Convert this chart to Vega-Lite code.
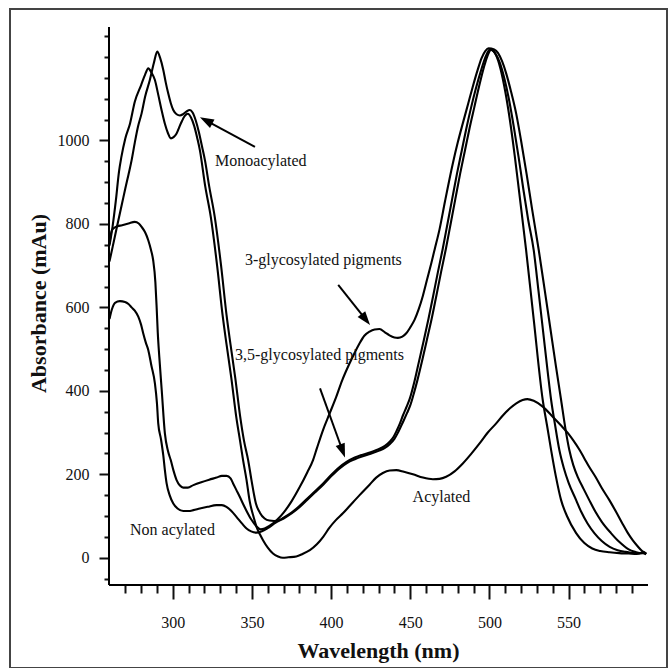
{
  "$schema": "https://vega.github.io/schema/vega-lite/v6.json",
  "width": 657,
  "height": 659,
  "autosize": {"type": "none"},
  "padding": {"left": 10, "top": 9, "right": 1, "bottom": 0},
  "background": "white",
  "config": {
    "view": {"stroke": "#444444", "strokeWidth": 2},
    "font": "Liberation Serif",
    "axis": {"grid": false, "domain": false, "labelFont": "Liberation Serif", "titleFont": "Liberation Serif", "labelColor": "#111111", "titleColor": "#111111", "tickColor": "#111111", "tickWidth": 2, "labelFontSize": 16, "titleFontSize": 22, "titleFontWeight": "bold", "labelOverlap": false, "labelFlush": false, "labelBound": false}
  },
  "resolve": {"axis": {"x": "independent", "y": "independent"}},
  "datasets": {
    "spectra": [
      {"series": "Acylated", "nm": 260, "abs": 748}, {"series": "Acylated", "nm": 262, "abs": 795}, {"series": "Acylated", "nm": 264, "abs": 855}, {"series": "Acylated", "nm": 266, "abs": 925}, {"series": "Acylated", "nm": 267.5, "abs": 960}, {"series": "Acylated", "nm": 270, "abs": 1005}, {"series": "Acylated", "nm": 273, "abs": 1041}, {"series": "Acylated", "nm": 276, "abs": 1093}, {"series": "Acylated", "nm": 280, "abs": 1133}, {"series": "Acylated", "nm": 282.5, "abs": 1158}, {"series": "Acylated", "nm": 284.5, "abs": 1173}, {"series": "Acylated", "nm": 286.5, "abs": 1163}, {"series": "Acylated", "nm": 288.7, "abs": 1145}, {"series": "Acylated", "nm": 290.8, "abs": 1110}, {"series": "Acylated", "nm": 292.9, "abs": 1073}, {"series": "Acylated", "nm": 295, "abs": 1040}, {"series": "Acylated", "nm": 296.9, "abs": 1018}, {"series": "Acylated", "nm": 298.8, "abs": 1005}, {"series": "Acylated", "nm": 300.5, "abs": 1008}, {"series": "Acylated", "nm": 302.4, "abs": 1017}, {"series": "Acylated", "nm": 305, "abs": 1040}, {"series": "Acylated", "nm": 307.6, "abs": 1059}, {"series": "Acylated", "nm": 309.5, "abs": 1064}, {"series": "Acylated", "nm": 311.5, "abs": 1055}, {"series": "Acylated", "nm": 313.5, "abs": 1035}, {"series": "Acylated", "nm": 315.5, "abs": 1005}, {"series": "Acylated", "nm": 317.1, "abs": 977}, {"series": "Acylated", "nm": 320.5, "abs": 890}, {"series": "Acylated", "nm": 324, "abs": 817}, {"series": "Acylated", "nm": 328, "abs": 700}, {"series": "Acylated", "nm": 331.5, "abs": 580}, {"series": "Acylated", "nm": 334, "abs": 510}, {"series": "Acylated", "nm": 337, "abs": 430}, {"series": "Acylated", "nm": 340, "abs": 340}, {"series": "Acylated", "nm": 342.5, "abs": 280}, {"series": "Acylated", "nm": 344.4, "abs": 234}, {"series": "Acylated", "nm": 346.6, "abs": 186}, {"series": "Acylated", "nm": 348.6, "abs": 135}, {"series": "Acylated", "nm": 351, "abs": 98}, {"series": "Acylated", "nm": 352.9, "abs": 74}, {"series": "Acylated", "nm": 355, "abs": 56}, {"series": "Acylated", "nm": 357, "abs": 42}, {"series": "Acylated", "nm": 360, "abs": 24}, {"series": "Acylated", "nm": 363.3, "abs": 10}, {"series": "Acylated", "nm": 366.5, "abs": 3}, {"series": "Acylated", "nm": 369.5, "abs": 0}, {"series": "Acylated", "nm": 373, "abs": 1}, {"series": "Acylated", "nm": 378, "abs": 3}, {"series": "Acylated", "nm": 382, "abs": 9}, {"series": "Acylated", "nm": 386.6, "abs": 18}, {"series": "Acylated", "nm": 391, "abs": 32}, {"series": "Acylated", "nm": 395, "abs": 50}, {"series": "Acylated", "nm": 399, "abs": 72}, {"series": "Acylated", "nm": 403, "abs": 90}, {"series": "Acylated", "nm": 407.6, "abs": 107}, {"series": "Acylated", "nm": 411.7, "abs": 124}, {"series": "Acylated", "nm": 418, "abs": 150}, {"series": "Acylated", "nm": 424.3, "abs": 175}, {"series": "Acylated", "nm": 428.5, "abs": 192}, {"series": "Acylated", "nm": 432.7, "abs": 203}, {"series": "Acylated", "nm": 437, "abs": 209}, {"series": "Acylated", "nm": 441.2, "abs": 210}, {"series": "Acylated", "nm": 446, "abs": 206}, {"series": "Acylated", "nm": 451.7, "abs": 200}, {"series": "Acylated", "nm": 458, "abs": 192}, {"series": "Acylated", "nm": 464.3, "abs": 188}, {"series": "Acylated", "nm": 468.5, "abs": 189}, {"series": "Acylated", "nm": 472.7, "abs": 194}, {"series": "Acylated", "nm": 478, "abs": 207}, {"series": "Acylated", "nm": 483.2, "abs": 226}, {"series": "Acylated", "nm": 488.5, "abs": 249}, {"series": "Acylated", "nm": 493.8, "abs": 274}, {"series": "Acylated", "nm": 499, "abs": 300}, {"series": "Acylated", "nm": 504.3, "abs": 322}, {"series": "Acylated", "nm": 508.5, "abs": 341}, {"series": "Acylated", "nm": 513, "abs": 358}, {"series": "Acylated", "nm": 517, "abs": 370}, {"series": "Acylated", "nm": 521, "abs": 378}, {"series": "Acylated", "nm": 524, "abs": 380}, {"series": "Acylated", "nm": 528, "abs": 376}, {"series": "Acylated", "nm": 533.7, "abs": 362}, {"series": "Acylated", "nm": 540, "abs": 338}, {"series": "Acylated", "nm": 545, "abs": 318}, {"series": "Acylated", "nm": 549.5, "abs": 299}, {"series": "Acylated", "nm": 553, "abs": 281}, {"series": "Acylated", "nm": 557, "abs": 258}, {"series": "Acylated", "nm": 560, "abs": 238}, {"series": "Acylated", "nm": 563, "abs": 218}, {"series": "Acylated", "nm": 567, "abs": 194}, {"series": "Acylated", "nm": 571, "abs": 167}, {"series": "Acylated", "nm": 575.8, "abs": 138}, {"series": "Acylated", "nm": 580, "abs": 110}, {"series": "Acylated", "nm": 584, "abs": 82}, {"series": "Acylated", "nm": 587.3, "abs": 60}, {"series": "Acylated", "nm": 590.5, "abs": 42}, {"series": "Acylated", "nm": 593.5, "abs": 28}, {"series": "Acylated", "nm": 596.5, "abs": 16}, {"series": "Acylated", "nm": 599, "abs": 10},

      {"series": "Monoacylated", "nm": 260, "abs": 710}, {"series": "Monoacylated", "nm": 262, "abs": 745}, {"series": "Monoacylated", "nm": 265, "abs": 798}, {"series": "Monoacylated", "nm": 268, "abs": 850}, {"series": "Monoacylated", "nm": 270, "abs": 885}, {"series": "Monoacylated", "nm": 272, "abs": 918}, {"series": "Monoacylated", "nm": 274, "abs": 953}, {"series": "Monoacylated", "nm": 276, "abs": 995}, {"series": "Monoacylated", "nm": 278, "abs": 1033}, {"series": "Monoacylated", "nm": 280.3, "abs": 1065}, {"series": "Monoacylated", "nm": 282.5, "abs": 1105}, {"series": "Monoacylated", "nm": 285.5, "abs": 1145}, {"series": "Monoacylated", "nm": 288, "abs": 1185}, {"series": "Monoacylated", "nm": 290.2, "abs": 1213}, {"series": "Monoacylated", "nm": 292, "abs": 1198}, {"series": "Monoacylated", "nm": 294, "abs": 1169}, {"series": "Monoacylated", "nm": 295.5, "abs": 1140}, {"series": "Monoacylated", "nm": 297.1, "abs": 1113}, {"series": "Monoacylated", "nm": 298.7, "abs": 1090}, {"series": "Monoacylated", "nm": 300.3, "abs": 1073}, {"series": "Monoacylated", "nm": 302.4, "abs": 1063}, {"series": "Monoacylated", "nm": 304.5, "abs": 1060}, {"series": "Monoacylated", "nm": 306.5, "abs": 1063}, {"series": "Monoacylated", "nm": 308.8, "abs": 1070}, {"series": "Monoacylated", "nm": 310.8, "abs": 1073}, {"series": "Monoacylated", "nm": 312.5, "abs": 1067}, {"series": "Monoacylated", "nm": 314.5, "abs": 1048}, {"series": "Monoacylated", "nm": 316.5, "abs": 1020}, {"series": "Monoacylated", "nm": 318.5, "abs": 985}, {"series": "Monoacylated", "nm": 320.3, "abs": 953}, {"series": "Monoacylated", "nm": 323, "abs": 890}, {"series": "Monoacylated", "nm": 326.5, "abs": 817}, {"series": "Monoacylated", "nm": 330.5, "abs": 700}, {"series": "Monoacylated", "nm": 334, "abs": 580}, {"series": "Monoacylated", "nm": 336.5, "abs": 510}, {"series": "Monoacylated", "nm": 339.5, "abs": 430}, {"series": "Monoacylated", "nm": 342.5, "abs": 340}, {"series": "Monoacylated", "nm": 345, "abs": 280}, {"series": "Monoacylated", "nm": 347.6, "abs": 234}, {"series": "Monoacylated", "nm": 349.7, "abs": 186}, {"series": "Monoacylated", "nm": 352.5, "abs": 130}, {"series": "Monoacylated", "nm": 355, "abs": 108}, {"series": "Monoacylated", "nm": 358, "abs": 94}, {"series": "Monoacylated", "nm": 361, "abs": 89}, {"series": "Monoacylated", "nm": 364, "abs": 88}, {"series": "Monoacylated", "nm": 367, "abs": 90}, {"series": "Monoacylated", "nm": 370, "abs": 96}, {"series": "Monoacylated", "nm": 375, "abs": 108}, {"series": "Monoacylated", "nm": 380, "abs": 124}, {"series": "Monoacylated", "nm": 385, "abs": 142}, {"series": "Monoacylated", "nm": 390, "abs": 160}, {"series": "Monoacylated", "nm": 395, "abs": 178}, {"series": "Monoacylated", "nm": 400, "abs": 198}, {"series": "Monoacylated", "nm": 405, "abs": 216}, {"series": "Monoacylated", "nm": 410, "abs": 230}, {"series": "Monoacylated", "nm": 415, "abs": 240}, {"series": "Monoacylated", "nm": 420, "abs": 247}, {"series": "Monoacylated", "nm": 425, "abs": 253}, {"series": "Monoacylated", "nm": 430, "abs": 260}, {"series": "Monoacylated", "nm": 434, "abs": 268}, {"series": "Monoacylated", "nm": 437, "abs": 278}, {"series": "Monoacylated", "nm": 439.5, "abs": 290}, {"series": "Monoacylated", "nm": 441.5, "abs": 305}, {"series": "Monoacylated", "nm": 443.5, "abs": 322}, {"series": "Monoacylated", "nm": 445.5, "abs": 342}, {"series": "Monoacylated", "nm": 447.5, "abs": 360}, {"series": "Monoacylated", "nm": 449.6, "abs": 380}, {"series": "Monoacylated", "nm": 452.5, "abs": 420}, {"series": "Monoacylated", "nm": 455.5, "abs": 470}, {"series": "Monoacylated", "nm": 458.5, "abs": 520}, {"series": "Monoacylated", "nm": 461.5, "abs": 572}, {"series": "Monoacylated", "nm": 464.5, "abs": 628}, {"series": "Monoacylated", "nm": 467.5, "abs": 685}, {"series": "Monoacylated", "nm": 470.5, "abs": 740}, {"series": "Monoacylated", "nm": 473.5, "abs": 800}, {"series": "Monoacylated", "nm": 476.5, "abs": 860}, {"series": "Monoacylated", "nm": 479.5, "abs": 920}, {"series": "Monoacylated", "nm": 482.5, "abs": 975}, {"series": "Monoacylated", "nm": 485.5, "abs": 1030}, {"series": "Monoacylated", "nm": 488.5, "abs": 1080}, {"series": "Monoacylated", "nm": 491.5, "abs": 1125}, {"series": "Monoacylated", "nm": 494.5, "abs": 1165}, {"series": "Monoacylated", "nm": 497.5, "abs": 1200}, {"series": "Monoacylated", "nm": 500.5, "abs": 1219}, {"series": "Monoacylated", "nm": 503.5, "abs": 1210}, {"series": "Monoacylated", "nm": 506.5, "abs": 1187}, {"series": "Monoacylated", "nm": 509.5, "abs": 1148}, {"series": "Monoacylated", "nm": 512.5, "abs": 1096}, {"series": "Monoacylated", "nm": 515.5, "abs": 1031}, {"series": "Monoacylated", "nm": 518.5, "abs": 959}, {"series": "Monoacylated", "nm": 521.5, "abs": 882}, {"series": "Monoacylated", "nm": 524.5, "abs": 810}, {"series": "Monoacylated", "nm": 528, "abs": 737}, {"series": "Monoacylated", "nm": 531, "abs": 640}, {"series": "Monoacylated", "nm": 534, "abs": 540}, {"series": "Monoacylated", "nm": 537, "abs": 440}, {"series": "Monoacylated", "nm": 539, "abs": 378}, {"series": "Monoacylated", "nm": 541.5, "abs": 318}, {"series": "Monoacylated", "nm": 544.2, "abs": 258}, {"series": "Monoacylated", "nm": 547, "abs": 215}, {"series": "Monoacylated", "nm": 550, "abs": 180}, {"series": "Monoacylated", "nm": 554.8, "abs": 138}, {"series": "Monoacylated", "nm": 558, "abs": 110}, {"series": "Monoacylated", "nm": 562, "abs": 82}, {"series": "Monoacylated", "nm": 566.3, "abs": 59}, {"series": "Monoacylated", "nm": 571, "abs": 40}, {"series": "Monoacylated", "nm": 576, "abs": 26}, {"series": "Monoacylated", "nm": 581, "abs": 18}, {"series": "Monoacylated", "nm": 586, "abs": 14}, {"series": "Monoacylated", "nm": 590, "abs": 12}, {"series": "Monoacylated", "nm": 594, "abs": 10}, {"series": "Monoacylated", "nm": 597, "abs": 13}, {"series": "Monoacylated", "nm": 599, "abs": 9},

      {"series": "3-glycosylated", "nm": 260, "abs": 752}, {"series": "3-glycosylated", "nm": 261.5, "abs": 785}, {"series": "3-glycosylated", "nm": 264, "abs": 793}, {"series": "3-glycosylated", "nm": 268, "abs": 797}, {"series": "3-glycosylated", "nm": 272, "abs": 801}, {"series": "3-glycosylated", "nm": 276, "abs": 805}, {"series": "3-glycosylated", "nm": 278.5, "abs": 801}, {"series": "3-glycosylated", "nm": 280.3, "abs": 793}, {"series": "3-glycosylated", "nm": 282.5, "abs": 780}, {"series": "3-glycosylated", "nm": 284.5, "abs": 761}, {"series": "3-glycosylated", "nm": 286.2, "abs": 738}, {"series": "3-glycosylated", "nm": 287.6, "abs": 713}, {"series": "3-glycosylated", "nm": 289, "abs": 660}, {"series": "3-glycosylated", "nm": 289.8, "abs": 600}, {"series": "3-glycosylated", "nm": 290.5, "abs": 540}, {"series": "3-glycosylated", "nm": 291.5, "abs": 480}, {"series": "3-glycosylated", "nm": 293, "abs": 402}, {"series": "3-glycosylated", "nm": 295, "abs": 298}, {"series": "3-glycosylated", "nm": 297, "abs": 255}, {"series": "3-glycosylated", "nm": 298.7, "abs": 234}, {"series": "3-glycosylated", "nm": 300.5, "abs": 208}, {"series": "3-glycosylated", "nm": 302.4, "abs": 186}, {"series": "3-glycosylated", "nm": 304.5, "abs": 173}, {"series": "3-glycosylated", "nm": 306.6, "abs": 168}, {"series": "3-glycosylated", "nm": 309.5, "abs": 168}, {"series": "3-glycosylated", "nm": 313, "abs": 174}, {"series": "3-glycosylated", "nm": 318, "abs": 181}, {"series": "3-glycosylated", "nm": 323, "abs": 187}, {"series": "3-glycosylated", "nm": 327.6, "abs": 192}, {"series": "3-glycosylated", "nm": 331, "abs": 196}, {"series": "3-glycosylated", "nm": 334, "abs": 196}, {"series": "3-glycosylated", "nm": 336.5, "abs": 190}, {"series": "3-glycosylated", "nm": 338.1, "abs": 178}, {"series": "3-glycosylated", "nm": 340.2, "abs": 162}, {"series": "3-glycosylated", "nm": 342.3, "abs": 146}, {"series": "3-glycosylated", "nm": 344.5, "abs": 128}, {"series": "3-glycosylated", "nm": 346.6, "abs": 112}, {"series": "3-glycosylated", "nm": 349.5, "abs": 92}, {"series": "3-glycosylated", "nm": 352.9, "abs": 75}, {"series": "3-glycosylated", "nm": 355.5, "abs": 68}, {"series": "3-glycosylated", "nm": 358, "abs": 70}, {"series": "3-glycosylated", "nm": 361, "abs": 76}, {"series": "3-glycosylated", "nm": 364, "abs": 84}, {"series": "3-glycosylated", "nm": 367, "abs": 95}, {"series": "3-glycosylated", "nm": 370, "abs": 108}, {"series": "3-glycosylated", "nm": 375, "abs": 135}, {"series": "3-glycosylated", "nm": 380, "abs": 168}, {"series": "3-glycosylated", "nm": 385, "abs": 205}, {"series": "3-glycosylated", "nm": 388.6, "abs": 234}, {"series": "3-glycosylated", "nm": 391, "abs": 262}, {"series": "3-glycosylated", "nm": 394.9, "abs": 306}, {"series": "3-glycosylated", "nm": 399, "abs": 345}, {"series": "3-glycosylated", "nm": 403.3, "abs": 386}, {"series": "3-glycosylated", "nm": 407, "abs": 425}, {"series": "3-glycosylated", "nm": 411.7, "abs": 466}, {"series": "3-glycosylated", "nm": 415, "abs": 492}, {"series": "3-glycosylated", "nm": 418, "abs": 514}, {"series": "3-glycosylated", "nm": 421, "abs": 532}, {"series": "3-glycosylated", "nm": 424.3, "abs": 542}, {"series": "3-glycosylated", "nm": 427.5, "abs": 547}, {"series": "3-glycosylated", "nm": 430.6, "abs": 548}, {"series": "3-glycosylated", "nm": 434, "abs": 540}, {"series": "3-glycosylated", "nm": 436.9, "abs": 533}, {"series": "3-glycosylated", "nm": 440, "abs": 528}, {"series": "3-glycosylated", "nm": 442.2, "abs": 527}, {"series": "3-glycosylated", "nm": 445, "abs": 530}, {"series": "3-glycosylated", "nm": 447.5, "abs": 538}, {"series": "3-glycosylated", "nm": 450, "abs": 552}, {"series": "3-glycosylated", "nm": 452.7, "abs": 570}, {"series": "3-glycosylated", "nm": 455.3, "abs": 595}, {"series": "3-glycosylated", "nm": 458, "abs": 628}, {"series": "3-glycosylated", "nm": 460.5, "abs": 665}, {"series": "3-glycosylated", "nm": 463.3, "abs": 706}, {"series": "3-glycosylated", "nm": 465.5, "abs": 740}, {"series": "3-glycosylated", "nm": 468.5, "abs": 787}, {"series": "3-glycosylated", "nm": 472, "abs": 855}, {"series": "3-glycosylated", "nm": 476.9, "abs": 945}, {"series": "3-glycosylated", "nm": 480, "abs": 995}, {"series": "3-glycosylated", "nm": 483.2, "abs": 1041}, {"series": "3-glycosylated", "nm": 486.5, "abs": 1087}, {"series": "3-glycosylated", "nm": 489.5, "abs": 1129}, {"series": "3-glycosylated", "nm": 492.5, "abs": 1168}, {"series": "3-glycosylated", "nm": 495, "abs": 1197}, {"series": "3-glycosylated", "nm": 497.5, "abs": 1215}, {"series": "3-glycosylated", "nm": 499.5, "abs": 1221}, {"series": "3-glycosylated", "nm": 503, "abs": 1218}, {"series": "3-glycosylated", "nm": 505.4, "abs": 1210}, {"series": "3-glycosylated", "nm": 508, "abs": 1190}, {"series": "3-glycosylated", "nm": 510.6, "abs": 1161}, {"series": "3-glycosylated", "nm": 513.5, "abs": 1120}, {"series": "3-glycosylated", "nm": 516.9, "abs": 1065}, {"series": "3-glycosylated", "nm": 520, "abs": 1000}, {"series": "3-glycosylated", "nm": 523.5, "abs": 920}, {"series": "3-glycosylated", "nm": 527, "abs": 835}, {"series": "3-glycosylated", "nm": 531.2, "abs": 737}, {"series": "3-glycosylated", "nm": 535, "abs": 640}, {"series": "3-glycosylated", "nm": 538.5, "abs": 550}, {"series": "3-glycosylated", "nm": 542, "abs": 460}, {"series": "3-glycosylated", "nm": 545.3, "abs": 378}, {"series": "3-glycosylated", "nm": 548, "abs": 310}, {"series": "3-glycosylated", "nm": 550.5, "abs": 258}, {"series": "3-glycosylated", "nm": 553, "abs": 222}, {"series": "3-glycosylated", "nm": 556, "abs": 192}, {"series": "3-glycosylated", "nm": 559.5, "abs": 165}, {"series": "3-glycosylated", "nm": 563.1, "abs": 138}, {"series": "3-glycosylated", "nm": 567, "abs": 110}, {"series": "3-glycosylated", "nm": 571, "abs": 86}, {"series": "3-glycosylated", "nm": 576.8, "abs": 59}, {"series": "3-glycosylated", "nm": 582, "abs": 38}, {"series": "3-glycosylated", "nm": 588, "abs": 20}, {"series": "3-glycosylated", "nm": 592, "abs": 14}, {"series": "3-glycosylated", "nm": 595, "abs": 11}, {"series": "3-glycosylated", "nm": 597.5, "abs": 13}, {"series": "3-glycosylated", "nm": 599, "abs": 9},

      {"series": "Non acylated", "nm": 260, "abs": 572}, {"series": "Non acylated", "nm": 261.5, "abs": 595}, {"series": "Non acylated", "nm": 263.5, "abs": 611}, {"series": "Non acylated", "nm": 266.6, "abs": 615}, {"series": "Non acylated", "nm": 269.8, "abs": 613}, {"series": "Non acylated", "nm": 272, "abs": 608}, {"series": "Non acylated", "nm": 274, "abs": 600}, {"series": "Non acylated", "nm": 276, "abs": 592}, {"series": "Non acylated", "nm": 278.2, "abs": 578}, {"series": "Non acylated", "nm": 280, "abs": 558}, {"series": "Non acylated", "nm": 281.3, "abs": 538}, {"series": "Non acylated", "nm": 283, "abs": 515}, {"series": "Non acylated", "nm": 284.5, "abs": 498}, {"series": "Non acylated", "nm": 286.5, "abs": 460}, {"series": "Non acylated", "nm": 288.7, "abs": 418}, {"series": "Non acylated", "nm": 290, "abs": 370}, {"series": "Non acylated", "nm": 290.8, "abs": 322}, {"series": "Non acylated", "nm": 292.5, "abs": 285}, {"series": "Non acylated", "nm": 294, "abs": 245}, {"series": "Non acylated", "nm": 295, "abs": 210}, {"series": "Non acylated", "nm": 296.1, "abs": 178}, {"series": "Non acylated", "nm": 298, "abs": 150}, {"series": "Non acylated", "nm": 300.3, "abs": 130}, {"series": "Non acylated", "nm": 303, "abs": 118}, {"series": "Non acylated", "nm": 306.6, "abs": 112}, {"series": "Non acylated", "nm": 310, "abs": 112}, {"series": "Non acylated", "nm": 313, "abs": 114}, {"series": "Non acylated", "nm": 317.1, "abs": 118}, {"series": "Non acylated", "nm": 322, "abs": 122}, {"series": "Non acylated", "nm": 327.6, "abs": 126}, {"series": "Non acylated", "nm": 331, "abs": 126}, {"series": "Non acylated", "nm": 333.9, "abs": 122}, {"series": "Non acylated", "nm": 337, "abs": 112}, {"series": "Non acylated", "nm": 340.2, "abs": 98}, {"series": "Non acylated", "nm": 343.5, "abs": 83}, {"series": "Non acylated", "nm": 346.6, "abs": 70}, {"series": "Non acylated", "nm": 349.5, "abs": 63}, {"series": "Non acylated", "nm": 352.9, "abs": 60}, {"series": "Non acylated", "nm": 356, "abs": 63}, {"series": "Non acylated", "nm": 360, "abs": 71}, {"series": "Non acylated", "nm": 365, "abs": 84}, {"series": "Non acylated", "nm": 370, "abs": 94}, {"series": "Non acylated", "nm": 375, "abs": 106}, {"series": "Non acylated", "nm": 380, "abs": 121}, {"series": "Non acylated", "nm": 385, "abs": 139}, {"series": "Non acylated", "nm": 390, "abs": 157}, {"series": "Non acylated", "nm": 395, "abs": 175}, {"series": "Non acylated", "nm": 400, "abs": 195}, {"series": "Non acylated", "nm": 405, "abs": 213}, {"series": "Non acylated", "nm": 410, "abs": 227}, {"series": "Non acylated", "nm": 415, "abs": 236}, {"series": "Non acylated", "nm": 420, "abs": 243}, {"series": "Non acylated", "nm": 425, "abs": 249}, {"series": "Non acylated", "nm": 430, "abs": 256}, {"series": "Non acylated", "nm": 434, "abs": 263}, {"series": "Non acylated", "nm": 437, "abs": 272}, {"series": "Non acylated", "nm": 440, "abs": 285}, {"series": "Non acylated", "nm": 442, "abs": 298}, {"series": "Non acylated", "nm": 444, "abs": 314}, {"series": "Non acylated", "nm": 446, "abs": 330}, {"series": "Non acylated", "nm": 448, "abs": 347}, {"series": "Non acylated", "nm": 450, "abs": 365}, {"series": "Non acylated", "nm": 452, "abs": 390}, {"series": "Non acylated", "nm": 454.5, "abs": 425}, {"series": "Non acylated", "nm": 457.5, "abs": 472}, {"series": "Non acylated", "nm": 460.5, "abs": 522}, {"series": "Non acylated", "nm": 463.5, "abs": 572}, {"series": "Non acylated", "nm": 466.5, "abs": 628}, {"series": "Non acylated", "nm": 469.5, "abs": 685}, {"series": "Non acylated", "nm": 472.5, "abs": 740}, {"series": "Non acylated", "nm": 475.5, "abs": 800}, {"series": "Non acylated", "nm": 478.5, "abs": 860}, {"series": "Non acylated", "nm": 481.5, "abs": 920}, {"series": "Non acylated", "nm": 484.5, "abs": 975}, {"series": "Non acylated", "nm": 487.5, "abs": 1030}, {"series": "Non acylated", "nm": 490.5, "abs": 1080}, {"series": "Non acylated", "nm": 493.5, "abs": 1130}, {"series": "Non acylated", "nm": 496.5, "abs": 1175}, {"series": "Non acylated", "nm": 499, "abs": 1205}, {"series": "Non acylated", "nm": 501, "abs": 1217}, {"series": "Non acylated", "nm": 504, "abs": 1206}, {"series": "Non acylated", "nm": 507, "abs": 1172}, {"series": "Non acylated", "nm": 510, "abs": 1118}, {"series": "Non acylated", "nm": 513, "abs": 1048}, {"series": "Non acylated", "nm": 516, "abs": 964}, {"series": "Non acylated", "nm": 519, "abs": 870}, {"series": "Non acylated", "nm": 523.2, "abs": 737}, {"series": "Non acylated", "nm": 528, "abs": 571}, {"series": "Non acylated", "nm": 533.7, "abs": 378}, {"series": "Non acylated", "nm": 536.5, "abs": 315}, {"series": "Non acylated", "nm": 539, "abs": 258}, {"series": "Non acylated", "nm": 542, "abs": 195}, {"series": "Non acylated", "nm": 545.3, "abs": 138}, {"series": "Non acylated", "nm": 549, "abs": 100}, {"series": "Non acylated", "nm": 554.8, "abs": 59}, {"series": "Non acylated", "nm": 560, "abs": 35}, {"series": "Non acylated", "nm": 565, "abs": 22}, {"series": "Non acylated", "nm": 570, "abs": 16}, {"series": "Non acylated", "nm": 576, "abs": 13}, {"series": "Non acylated", "nm": 582, "abs": 11}, {"series": "Non acylated", "nm": 588, "abs": 10}, {"series": "Non acylated", "nm": 593, "abs": 9}, {"series": "Non acylated", "nm": 597, "abs": 11}, {"series": "Non acylated", "nm": 599, "abs": 8}
    ],
    "labels": [
      {"text": "Monoacylated", "nm": 326.7, "abs": 951},
      {"text": "3-glycosylated pigments", "nm": 345.6, "abs": 714},
      {"text": "3,5-glycosylated pigments", "nm": 339.3, "abs": 485},
      {"text": "Acylated", "nm": 451.5, "abs": 145},
      {"text": "Non acylated", "nm": 273, "abs": 66}
    ],
    "arrows": [
      {"nm": 351.9, "abs": 985, "nm2": 322.0, "abs2": 1046, "angle": 298},
      {"nm": 404.5, "abs": 654, "nm2": 421.2, "abs2": 574, "angle": 142},
      {"nm": 393.0, "abs": 406, "nm2": 406.9, "abs2": 260, "angle": 160}
    ]
  },
  "layer": [
    {
      "data": {"name": "spectra"},
      "mark": {"type": "line", "color": "#000000", "strokeWidth": 2.1, "interpolate": "monotone"},
      "encoding": {
        "x": {"field": "nm", "type": "quantitative", "scale": {"domain": [197.16, 612.2], "nice": false, "zero": false},
          "axis": {"title": "Wavelength (nm)", "orient": "bottom", "offset": -83, "values": [300, 350, 400, 450, 500, 550],
            "tickSize": 14, "labelPadding": 15, "titleX": 368, "titleY": 65, "titleBaseline": "middle", "titleAnchor": "middle"}},
        "y": {"field": "abs", "type": "quantitative", "scale": {"domain": [-264.4, 1315.2], "nice": false, "zero": false},
          "axis": {"title": "Absorbance (mAu)", "orient": "left", "offset": -99, "format": "d", "values": [0, 200, 400, 600, 800, 1000],
            "tickSize": 10, "labelPadding": 10, "titleX": -71, "titleY": 294, "titleBaseline": "middle", "titleAnchor": "middle"}},
        "detail": {"field": "series", "type": "nominal"}
      }
    },
    {
      "data": {"values": [{}]},
      "mark": {"type": "rule", "color": "#000000", "strokeWidth": 2},
      "encoding": {"x": {"datum": 259.7, "axis": null}, "y": {"datum": -65.4, "axis": null}, "y2": {"datum": 1272}}
    },
    {
      "data": {"values": [{}]},
      "mark": {"type": "rule", "color": "#000000", "strokeWidth": 2},
      "encoding": {"y": {"datum": -65.4, "axis": null}, "x": {"datum": 259.7, "axis": null}, "x2": {"datum": 600.2}}
    },
    {
      "data": {"name": "arrows"},
      "mark": {"type": "rule", "color": "#000000", "strokeWidth": 2},
      "encoding": {"x": {"field": "nm", "type": "quantitative", "axis": null}, "y": {"field": "abs", "type": "quantitative", "axis": null}, "x2": {"field": "nm2"}, "y2": {"field": "abs2"}}
    },
    {
      "data": {"name": "arrows"},
      "mark": {"type": "point", "shape": "M0,-1L0.55,0.6L-0.55,0.6Z", "filled": true, "color": "#000000", "opacity": 1, "size": 306},
      "encoding": {"x": {"field": "nm2", "type": "quantitative", "axis": null}, "y": {"field": "abs2", "type": "quantitative", "axis": null}, "angle": {"field": "angle", "type": "quantitative", "scale": null}}
    },
    {
      "data": {"name": "labels"},
      "mark": {"type": "text", "font": "Liberation Serif", "fontSize": 16, "align": "left", "baseline": "middle", "color": "#111111"},
      "encoding": {
        "x": {"field": "nm", "type": "quantitative", "axis": {"title": null, "orient": "bottom", "offset": -83, "labels": false, "tickSize": 8, "values": [270,280,290,310,320,330,340,360,370,380,390,410,420,430,440,460,470,480,490,510,520,530,540,560,570,580,590]}},
        "y": {"field": "abs", "type": "quantitative", "axis": {"title": null, "orient": "left", "offset": -99, "labels": false, "tickSize": 5, "values": [-50,50,100,150,250,300,350,450,500,550,650,700,750,850,900,950,1050,1100,1150,1200,1250]}},
        "text": {"field": "text"}
      }
    }
  ]
}
